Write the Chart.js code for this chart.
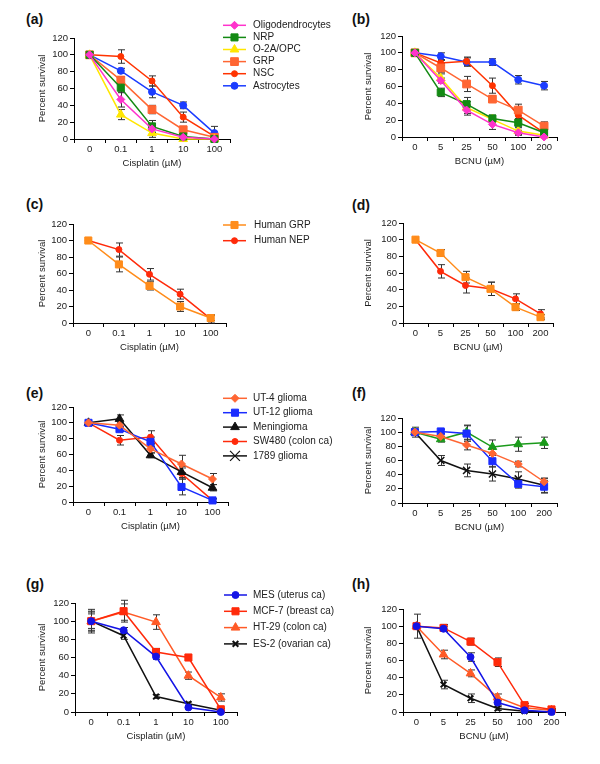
<!DOCTYPE html>
<html>
<head>
<meta charset="utf-8">
<script src="https://cdn.jsdelivr.net/npm/chart.js@4.4.0/dist/chart.umd.min.js"></script>
<style>
  body { margin:0; background:#fff; width:600px; height:764px; position:relative; overflow:hidden;
         font-family:'Liberation Sans', Arial, Helvetica, sans-serif; }
  canvas { position:absolute; }
  .lbl { position:absolute; font-weight:bold; font-size:14px; line-height:16px; color:#111; }
</style>
</head>
<body>
<div class="lbl" style="left:26px;top:11px">(a)</div>
<div class="lbl" style="left:352px;top:11px">(b)</div>
<div class="lbl" style="left:26px;top:196px">(c)</div>
<div class="lbl" style="left:352px;top:197px">(d)</div>
<div class="lbl" style="left:26px;top:385px">(e)</div>
<div class="lbl" style="left:352px;top:385px">(f)</div>
<div class="lbl" style="left:26px;top:576px">(g)</div>
<div class="lbl" style="left:352px;top:576px">(h)</div>

<canvas id="ca"></canvas>
<canvas id="cc"></canvas>
<canvas id="ce"></canvas>
<canvas id="cg"></canvas>
<canvas id="cb"></canvas>
<canvas id="cd"></canvas>
<canvas id="cf"></canvas>
<canvas id="ch"></canvas>

<script>
// doses
const cisplatinDoses = ['0', '0.1', '1', '10', '100'];
const bcnuDoses = ['0', '5', '25', '50', '100', '200'];
const survivalTicks = [0, 20, 40, 60, 80, 100, 120];

// (a) cisplatin, rat glial precursors
const a_oligo = [100, 47, 12, 2, 0];    const a_oligo_err = [0, 9, 4, 2, 1];
const a_nrp   = [100, 61, 15, 3, 0];    const a_nrp_err   = [0, 6, 7, 3, 1];
const a_opc   = [100, 29, 7, 0, 0];     const a_opc_err   = [0, 6, 5, 3, 2];
const a_grp   = [100, 70, 35, 11, 2];   const a_grp_err   = [0, 4, 5, 4, 2];
const a_nsc   = [100, 98, 69, 26, 3];   const a_nsc_err   = [0, 8, 6, 6, 3];
const a_astro = [100, 81, 56, 40, 7];   const a_astro_err = [0, 3, 7, 4, 8];

// (b) BCNU
const b_oligo = [100, 67, 32, 15, 5, 0];  const b_oligo_err = [0, 3, 6, 6, 3, 1];
const b_nrp   = [100, 53, 39, 22, 17, 5]; const b_nrp_err   = [0, 5, 8, 4, 5, 4];
const b_opc   = [100, 70, 35, 21, 7, 2];  const b_opc_err   = [0, 5, 7, 3, 4, 2];
const b_grp   = [100, 82, 63, 45, 32, 13];const b_grp_err   = [0, 5, 9, 4, 7, 5];
const b_nsc   = [100, 88, 90, 61, 26, 5]; const b_nsc_err   = [0, 3, 5, 9, 5, 3];
const b_astro = [100, 96, 89, 89, 68, 61];const b_astro_err = [0, 4, 5, 4, 5, 5];

// (c) cisplatin, human cells
const c_grp = [100, 71, 45, 20, 6];  const c_grp_err = [0, 9, 5, 6, 3];
const c_nep = [100, 89, 59, 35, 5];  const c_nep_err = [0, 8, 7, 6, 5];

// (d) BCNU, human cells
const d_grp = [100, 84, 55, 41, 19, 7];  const d_grp_err = [0, 4, 7, 8, 4, 3];
const d_nep = [100, 62, 45, 41, 29, 11]; const d_nep_err = [0, 8, 9, 8, 6, 5];

// (e) cisplatin, tumour lines
const e_ut4   = [100, 97, 67, 48, 29];  const e_ut4_err   = [0, 3, 5, 11, 7];
const e_ut12  = [100, 92, 76, 19, 2];   const e_ut12_err  = [0, 3, 6, 10, 2];
const e_men   = [100, 105, 59, 38, 18]; const e_men_err   = [0, 5, 3, 7, 4];
const e_sw480 = [100, 78, 82, 36, 2];   const e_sw480_err = [0, 6, 8, 7, 2];

// (f) BCNU, tumour lines
const f_ut4  = [100, 94, 82, 70, 55, 30];  const f_ut4_err  = [0, 4, 7, 8, 4, 5];
const f_ut12 = [100, 101, 98, 59, 27, 23]; const f_ut12_err = [0, 3, 11, 8, 6, 9];
const f_men  = [100, 90, 100, 79, 83, 85]; const f_men_err  = [0, 4, 10, 10, 10, 8];
const f_1789 = [100, 60, 46, 41, 34, 25];  const f_1789_err = [7, 7, 9, 10, 10, 10];

// (g) cisplatin, carcinoma lines
const g_mes  = [100, 90, 61, 5, 0];    const g_mes_err  = [8, 3, 3, 1, 1];
const g_mcf7 = [100, 111, 66, 60, 3];  const g_mcf7_err = [13, 12, 4, 3, 1];
const g_ht29 = [100, 110, 99, 40, 16]; const g_ht29_err = [10, 9, 8, 4, 4];
const g_es2  = [100, 84, 17, 9, 2];    const g_es2_err  = [11, 4, 2, 2, 2];

// (h) BCNU, carcinoma lines
const h_mes  = [100, 97, 64, 11, 2, 0];  const h_mes_err  = [0, 3, 5, 3, 1, 0];
const h_mcf7 = [100, 98, 82, 58, 8, 3];  const h_mcf7_err = [0, 4, 4, 5, 2, 1];
const h_ht29 = [100, 67, 45, 17, 5, 2];  const h_ht29_err = [0, 5, 4, 4, 2, 1];
const h_es2  = [100, 32, 16, 4, 1, 0];   const h_es2_err  = [14, 5, 5, 2, 1, 0];

// marker styles
const sMagenta = { color: '#ff33cc', pointStyle: 'rectRot', radius: 4 };
const sGreen   = { color: '#138a13', pointStyle: 'rect', radius: 5 };
const sYellow  = { color: '#ffe600', pointStyle: 'triangle', radius: 5 };
const sOrangeSq= { color: '#ff6633', pointStyle: 'rect', radius: 5.5 };
const sRedDot  = { color: '#ff3300', pointStyle: 'circle', radius: 3 };
const sBlueDot = { color: '#1a3cff', pointStyle: 'circle', radius: 3.5 };
const sHumGrp  = { color: '#ff8c1a', pointStyle: 'rect', radius: 5 };
const sHumNep  = { color: '#ff2a0a', pointStyle: 'circle', radius: 3 };
const sUt4     = { color: '#ff6633', pointStyle: 'rectRot', radius: 4 };
const sUt12    = { color: '#1a2cff', pointStyle: 'rect', radius: 5 };
const sMenBlk  = { color: '#111111', pointStyle: 'triangle', radius: 5 };
const sMenGrn  = { color: '#1a9a1a', pointStyle: 'triangle', radius: 5 };
const sSw480   = { color: '#ff2a0a', pointStyle: 'circle', radius: 3 };
const s1789    = { color: '#111111', pointStyle: 'crossRot', radius: 5, bw: 1.5 };
const sMes     = { color: '#1414e6', pointStyle: 'circle', radius: 3.5 };
const sMcf7    = { color: '#ff2a0a', pointStyle: 'rect', radius: 5 };
const sHt29    = { color: '#ff5a26', pointStyle: 'triangle', radius: 5 };
const sEs2     = { color: '#111111', pointStyle: 'crossRot', radius: 4, bw: 2 };

Chart.defaults.font.family = "'Liberation Sans', Arial, Helvetica, sans-serif";
Chart.defaults.color = '#222';

const series = (label, data, errors, st) => ({
  label, data, errors,
  borderColor: st.color, backgroundColor: st.color,
  pointBackgroundColor: st.color, pointBorderColor: st.color,
  pointStyle: st.pointStyle, pointRadius: st.radius, pointBorderWidth: st.bw || 1,
  borderWidth: 1.5, tension: 0, clip: false
});

const errorBars = {
  id: 'errorBars',
  beforeDatasetsDraw(chart) {
    const ctx = chart.ctx, ys = chart.scales.y;
    chart.data.datasets.forEach((ds, i) => {
      if (!ds.errors) return;
      chart.getDatasetMeta(i).data.forEach((pt, j) => {
        const e = ds.errors[j];
        if (!e) return;
        const y1 = ys.getPixelForValue(ds.data[j] + e);
        const y2 = ys.getPixelForValue(ds.data[j] - e);
        const x = Math.round(pt.x) + 0.5;
        ctx.save();
        ctx.strokeStyle = '#333';
        ctx.lineWidth = 1;
        ctx.beginPath();
        ctx.moveTo(x, y1); ctx.lineTo(x, y2);
        ctx.moveTo(x - 3.5, y1); ctx.lineTo(x + 3.5, y1);
        ctx.moveTo(x - 3.5, y2); ctx.lineTo(x + 3.5, y2);
        ctx.stroke();
        ctx.restore();
      });
    });
  }
};

function legendPlugin(items, g) {
  return {
    id: 'panelLegend',
    afterDraw(chart) {
      const ctx = chart.ctx;
      items.forEach((it, k) => {
        const y = g.y0 + k * g.dy;
        const st = it.st;
        ctx.save();
        ctx.strokeStyle = st.color;
        ctx.fillStyle = st.color;
        ctx.lineWidth = 1.5;
        ctx.beginPath(); ctx.moveTo(g.x1, y); ctx.lineTo(g.x2, y); ctx.stroke();
        ctx.lineWidth = st.bw || 1;
        Chart.helpers.drawPoint(ctx, { pointStyle: st.pointStyle, radius: st.radius, borderWidth: st.bw || 1, rotation: 0 }, (g.x1 + g.x2) / 2, y);
        ctx.fillStyle = '#222';
        ctx.font = "10px 'Liberation Sans', Arial, sans-serif";
        ctx.textAlign = 'left';
        ctx.textBaseline = 'middle';
        ctx.fillText(it.label, g.tx, y);
        ctx.restore();
      });
    }
  };
}

// box: canvas on page; area: chart area on page; tx: y-title centre on page
function panel(id, box, area, tx, labels, xTitle, datasets, legend) {
  const cv = document.getElementById(id);
  cv.width = box.w; cv.height = box.h;
  cv.style.left = box.left + 'px'; cv.style.top = box.top + 'px';
  const yW = 40, xH = 30;
  const plugins = [errorBars];
  if (legend) plugins.push(legendPlugin(legend.items, legend.g));
  new Chart(cv, {
    type: 'line',
    data: { labels, datasets },
    options: {
      responsive: false, animation: false, events: [],
      layout: { padding: {
        left: area.L - box.left - yW,
        right: box.left + box.w - area.R,
        top: area.T - box.top,
        bottom: box.top + box.h - area.B - xH } },
      plugins: { legend: { display: false }, tooltip: { enabled: false } },
      scales: {
        x: {
          type: 'category', offset: true,
          grid: { offset: true, drawOnChartArea: false, drawTicks: true, tickLength: 4, color: '#000' },
          border: { color: '#000', width: 1 },
          ticks: { padding: 1, font: { size: 9.5 }, maxRotation: 0, autoSkip: false },
          title: { display: true, text: xTitle, font: { size: 9.5 }, padding: { top: 0, bottom: 0 } },
          afterFit(s) { s.height = xH; }
        },
        y: {
          min: 0, max: 120,
          afterBuildTicks(s) { s.ticks = survivalTicks.map(v => ({ value: v })); },
          ticks: { padding: 2, font: { size: 9.5 }, autoSkip: false, autoSkipPadding: 0, stepSize: 20 },
          grid: { drawOnChartArea: false, tickLength: 4, color: '#000' },
          border: { color: '#000', width: 1 },
          title: { display: true, text: 'Percent survival', font: { size: 9.5 },
                   padding: { top: Math.max(0, tx - (area.L - yW) - 5.7), bottom: 0 } },
          afterFit(s) { s.width = yW; }
        }
      }
    },
    plugins
  });
}

const cis = 'Cisplatin (\u00b5M)';
const bcnu = 'BCNU (\u00b5M)';

panel('ca', { left: 0, top: 0, w: 370, h: 180 }, { L: 74, R: 230, T: 38, B: 139 }, 42, cisplatinDoses, cis, [
  series('Oligodendrocytes', a_oligo, a_oligo_err, sMagenta),
  series('NRP', a_nrp, a_nrp_err, sGreen),
  series('O-2A/OPC', a_opc, a_opc_err, sYellow),
  series('GRP', a_grp, a_grp_err, sOrangeSq),
  series('NSC', a_nsc, a_nsc_err, sRedDot),
  series('Astrocytes', a_astro, a_astro_err, sBlueDot)
], { items: [
  { label: 'Oligodendrocytes', st: sMagenta }, { label: 'NRP', st: sGreen },
  { label: 'O-2A/OPC', st: sYellow }, { label: 'GRP', st: sOrangeSq },
  { label: 'NSC', st: sRedDot }, { label: 'Astrocytes', st: sBlueDot }
], g: { x1: 223, x2: 246, tx: 253, y0: 25.3, dy: 12.1 } });

panel('cb', { left: 300, top: 0, w: 300, h: 180 }, { L: 402, R: 557, T: 36, B: 137 }, 368, bcnuDoses, bcnu, [
  series('Oligodendrocytes', b_oligo, b_oligo_err, sMagenta),
  series('NRP', b_nrp, b_nrp_err, sGreen),
  series('O-2A/OPC', b_opc, b_opc_err, sYellow),
  series('GRP', b_grp, b_grp_err, sOrangeSq),
  series('NSC', b_nsc, b_nsc_err, sRedDot),
  series('Astrocytes', b_astro, b_astro_err, sBlueDot)
]);

panel('cc', { left: 0, top: 180, w: 370, h: 180 }, { L: 73, R: 226, T: 224, B: 323 }, 42, cisplatinDoses, cis, [
  series('Human GRP', c_grp, c_grp_err, sHumGrp),
  series('Human NEP', c_nep, c_nep_err, sHumNep)
], { items: [
  { label: 'Human GRP', st: sHumGrp }, { label: 'Human NEP', st: sHumNep }
], g: { x1: 223, x2: 246, tx: 254, y0: 45, dy: 15.7 } });

panel('cd', { left: 300, top: 180, w: 300, h: 180 }, { L: 403, R: 553, T: 223, B: 323 }, 368, bcnuDoses, bcnu, [
  series('Human GRP', d_grp, d_grp_err, sHumGrp),
  series('Human NEP', d_nep, d_nep_err, sHumNep)
]);

panel('ce', { left: 0, top: 370, w: 370, h: 190 }, { L: 73, R: 228, T: 407, B: 502 }, 42, cisplatinDoses, cis, [
  series('UT-4 glioma', e_ut4, e_ut4_err, sUt4),
  series('UT-12 glioma', e_ut12, e_ut12_err, sUt12),
  series('Meningioma', e_men, e_men_err, sMenBlk),
  series('SW480 (colon ca)', e_sw480, e_sw480_err, sSw480)
], { items: [
  { label: 'UT-4 glioma', st: sUt4 }, { label: 'UT-12 glioma', st: sUt12 },
  { label: 'Meningioma', st: sMenBlk }, { label: 'SW480 (colon ca)', st: sSw480 },
  { label: '1789 glioma', st: { color: '#111111', pointStyle: 'crossRot', radius: 7, bw: 1.2 } }
], g: { x1: 223, x2: 247, tx: 253, y0: 28.3, dy: 14.4 } });

panel('cf', { left: 300, top: 370, w: 300, h: 190 }, { L: 402, R: 557, T: 418, B: 503 }, 368, bcnuDoses, bcnu, [
  series('UT-4 glioma', f_ut4, f_ut4_err, sUt4),
  series('UT-12 glioma', f_ut12, f_ut12_err, sUt12),
  series('Meningioma', f_men, f_men_err, sMenGrn),
  series('1789 glioma', f_1789, f_1789_err, s1789)
]);

panel('cg', { left: 0, top: 570, w: 370, h: 194 }, { L: 75, R: 237, T: 603, B: 712 }, 42, cisplatinDoses, cis, [
  series('MES (uterus ca)', g_mes, g_mes_err, sMes),
  series('MCF-7 (breast ca)', g_mcf7, g_mcf7_err, sMcf7),
  series('HT-29 (colon ca)', g_ht29, g_ht29_err, sHt29),
  series('ES-2 (ovarian ca)', g_es2, g_es2_err, sEs2)
], { items: [
  { label: 'MES (uterus ca)', st: sMes }, { label: 'MCF-7 (breast ca)', st: sMcf7 },
  { label: 'HT-29 (colon ca)', st: sHt29 }, { label: 'ES-2 (ovarian ca)', st: sEs2 }
], g: { x1: 224, x2: 247, tx: 253, y0: 25, dy: 16.3 } });

panel('ch', { left: 300, top: 570, w: 300, h: 194 }, { L: 403, R: 565, T: 609, B: 712 }, 368, bcnuDoses, bcnu, [
  series('MES (uterus ca)', h_mes, h_mes_err, sMes),
  series('MCF-7 (breast ca)', h_mcf7, h_mcf7_err, sMcf7),
  series('HT-29 (colon ca)', h_ht29, h_ht29_err, sHt29),
  series('ES-2 (ovarian ca)', h_es2, h_es2_err, sEs2)
]);
</script>
</body>
</html>
